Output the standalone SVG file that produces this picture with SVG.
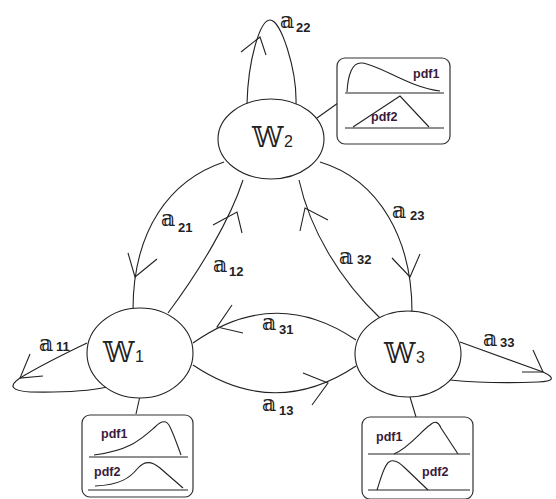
<svg xmlns="http://www.w3.org/2000/svg" width="556" height="499" viewBox="0 0 556 499">
<style>
.ln{fill:none;stroke:#222;stroke-width:1.1}
.nd{fill:#fff;stroke:#222;stroke-width:1.1}
.bx{fill:#fff;stroke:#333;stroke-width:1.2}
.W{font-family:"DejaVu Serif","DejaVu Sans",serif;font-size:28px;fill:#222}
.A{font-family:"DejaVu Serif","DejaVu Sans",serif;font-size:22px;fill:#222}
.s{font-family:"Liberation Sans",Arial,sans-serif;font-weight:bold;font-size:13px;fill:#222}
.n{font-family:"Liberation Sans",Arial,sans-serif;font-size:16px;fill:#222}
.p{font-family:"Liberation Sans",Arial,sans-serif;font-weight:bold;font-size:12.5px;fill:#3a1a3a}
</style>
<rect width="556" height="499" fill="#fff"/>
<g id="connectors">
  <path class="ln" d="M247,104 C248,60 260,20 270,20 C281,20 297,70 296,104"/>
  <path class="ln" d="M241,52 L260,37 L266,55"/>
  <path class="ln" d="M87,343 Q45,363 20,378 Q2,390 30,392 Q80,393 107,387"/>
  <path class="ln" d="M30,354 L20,378 L43,376"/>
  <path class="ln" d="M460,342 L543,372 Q562,381 538,382 Q490,384 450,380"/>
  <path class="ln" d="M533,350 L543,372 L522,372"/>
  <path class="ln" d="M224,162 C170,180 133,230 133,310"/>
  <path class="ln" d="M128,253 L135,277 L157,259"/>
  <path class="ln" d="M168,313 C200,270 230,220 243,180"/>
  <path class="ln" d="M213,225 L237,212 L242,233"/>
  <path class="ln" d="M380,318 C340,280 310,230 299,180"/>
  <path class="ln" d="M300,231 L305,208 L328,220"/>
  <path class="ln" d="M320,162 C380,180 412,240 412,312"/>
  <path class="ln" d="M392,258 L410,277 L420,254"/>
  <path class="ln" d="M193,343 Q275,285 356,340"/>
  <path class="ln" d="M232,305 L217,327 L243,333"/>
  <path class="ln" d="M193,365 Q275,420 356,366"/>
  <path class="ln" d="M303,373 L328,383 L312,405"/>
  <path class="ln" d="M317,118 L338,103"/>
  <path class="ln" d="M140,396 L136,414"/>
  <path class="ln" d="M410,397 L416,417"/>
</g>
<g id="labels">
  <text class="A" x="280" y="28">𝕒</text><text class="s" x="296" y="32">22</text>
  <text class="A" x="161" y="226">𝕒</text><text class="s" x="178" y="232">21</text>
  <text class="A" x="213" y="272">𝕒</text><text class="s" x="229" y="276">12</text>
  <text class="A" x="339" y="264">𝕒</text><text class="s" x="357" y="264">32</text>
  <text class="A" x="392" y="218">𝕒</text><text class="s" x="410" y="220">23</text>
  <text class="A" x="262" y="330">𝕒</text><text class="s" x="279" y="334">31</text>
  <text class="A" x="262" y="411">𝕒</text><text class="s" x="279" y="415">13</text>
  <text class="A" x="39" y="351">𝕒</text><text class="s" x="56" y="351">11</text>
  <text class="A" x="483" y="346">𝕒</text><text class="s" x="500" y="347">33</text>
</g>
<g id="W2">
  <ellipse class="nd" cx="271" cy="139" rx="53" ry="40"/>
  <text class="W" x="252" y="147">𝕎</text><text class="n" x="284" y="147">2</text>
</g>
<g id="W1">
  <ellipse class="nd" cx="140" cy="353" rx="53" ry="45"/>
  <text class="W" x="103" y="362">𝕎</text><text class="n" x="135" y="362">1</text>
</g>
<g id="W3">
  <ellipse class="nd" cx="408" cy="354" rx="53" ry="43"/>
  <text class="W" x="384" y="363">𝕎</text><text class="n" x="416" y="363">3</text>
</g>
<g id="pdfbox2">
  <rect class="bx" x="337" y="58" width="113" height="86" rx="8"/>
  <line class="ln" x1="345" y1="93" x2="444" y2="93"/>
  <line class="ln" x1="345" y1="128" x2="444" y2="128"/>
  <path class="ln" d="M347,92 C348,75 352,62 362,63 C380,65 410,88 440,91"/>
  <path class="ln" d="M353,127 L400,96 L429,127"/>
  <text class="p" x="413" y="78">pdf1</text>
  <text class="p" x="371" y="121">pdf2</text>
</g>
<g id="pdfbox1">
  <rect class="bx" x="82" y="415" width="111" height="82" rx="8"/>
  <line class="ln" x1="89" y1="457" x2="188" y2="457"/>
  <line class="ln" x1="88" y1="490" x2="188" y2="490"/>
  <path class="ln" d="M94,455 C130,450 140,440 155,427 C162,420 167,420 170,427 C174,435 178,447 181,455"/>
  <path class="ln" d="M95,486 C120,485 130,478 138,468 C145,460 152,461 160,468 L183,488"/>
  <text class="p" x="101" y="438">pdf1</text>
  <text class="p" x="94" y="476">pdf2</text>
</g>
<g id="pdfbox3">
  <rect class="bx" x="362" y="417" width="111" height="82" rx="8"/>
  <line class="ln" x1="368" y1="454" x2="470" y2="454"/>
  <line class="ln" x1="368" y1="490" x2="470" y2="490"/>
  <path class="ln" d="M394,454 C410,447 420,432 430,425 C434,421 438,421 441,428 L458,454"/>
  <path class="ln" d="M377,490 C381,478 384,465 389,462 C393,459 398,461 405,468 L428,490"/>
  <text class="p" x="376" y="441">pdf1</text>
  <text class="p" x="422" y="476">pdf2</text>
</g>
</svg>
